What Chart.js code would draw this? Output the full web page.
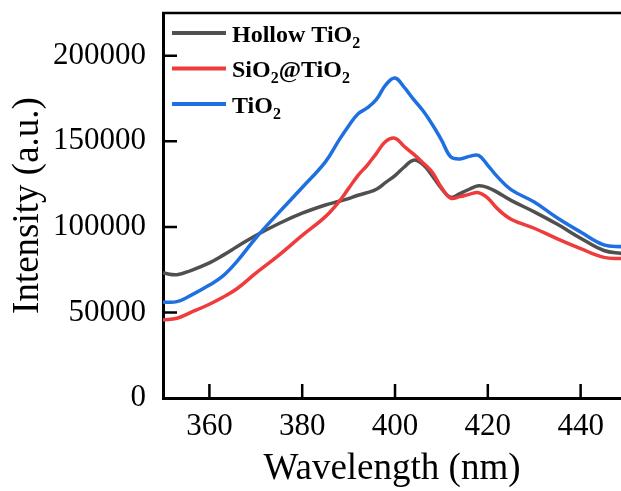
<!DOCTYPE html>
<html>
<head>
<meta charset="utf-8">
<script src="https://cdn.jsdelivr.net/npm/chart.js@4.4.0/dist/chart.umd.min.js"></script>
<style>
  html, body { margin: 0; padding: 0; background: #fff; }
  #wrap { width: 621px; height: 491px; }
</style>
</head>
<body>
<div id="wrap"><canvas id="grafico"></canvas></div>
<script>
// valores
const comprimentos = [350, 353, 356, 360, 363, 366, 370, 375, 380, 385, 388, 390, 392, 394, 396, 398, 400, 402, 404, 406, 408, 410, 412, 414, 416, 418, 420, 422, 425, 430, 435, 440, 445, 449];
const hollowTiO2 = [73000, 72000, 74500, 79000, 83500, 88500, 95000, 102000, 108000, 112800, 115000, 116500, 118500, 120000, 122000, 126000, 130000, 135000, 139000, 136500, 130000, 122500, 117300, 119500, 122000, 124000, 123000, 120300, 115500, 108800, 101500, 93400, 86200, 84400];
const sio2TiO2 = [45600, 46600, 50000, 54800, 59000, 64000, 73000, 83500, 95000, 106000, 115000, 122500, 130000, 136000, 143000, 150000, 151800, 147000, 142500, 137500, 132000, 123000, 116800, 117700, 119000, 120000, 116800, 110800, 104500, 99200, 93000, 87300, 82200, 81500];
const tio2 = [56000, 56300, 60000, 66000, 71500, 80000, 93500, 108500, 123000, 138000, 151000, 159000, 166000, 169500, 174500, 183000, 187000, 181500, 174500, 168000, 160000, 150900, 141000, 139700, 141200, 141800, 136000, 129500, 121800, 114500, 105200, 97000, 89500, 88400];

const ticksX = [360, 380, 400, 420, 440];
const ticksY = [0, 50000, 100000, 150000, 200000];

const legendas = [
  { partes: [['Hollow TiO', 0], ['2', 1]], cor: '#505050' },
  { partes: [['SiO', 0], ['2', 1], ['@TiO', 0], ['2', 1]], cor: '#ef3b3b' },
  { partes: [['TiO', 0], ['2', 1]], cor: '#1e70e0' }
];

function pares(ys) {
  return comprimentos.map((x, i) => ({ x: x, y: ys[i] }));
}

// ticks para dentro, borda de cima e legenda
const extras = {
  id: 'extras',
  afterDraw(chart) {
    const ctx = chart.ctx;
    const area = chart.chartArea;
    const sx = chart.scales.x;
    const sy = chart.scales.y;
    ctx.save();
    ctx.strokeStyle = '#000';
    ctx.lineWidth = 2.5;
    ctx.beginPath();
    ctx.moveTo(area.left - 1, area.top);
    ctx.lineTo(area.right, area.top);
    ticksX.forEach(v => {
      const px = sx.getPixelForValue(v);
      ctx.moveTo(px, area.bottom);
      ctx.lineTo(px, area.bottom - 14);
    });
    ticksY.forEach(v => {
      if (v === 0) return;
      const py = sy.getPixelForValue(v);
      ctx.moveTo(area.left, py);
      ctx.lineTo(area.left + 14, py);
    });
    ctx.stroke();

    legendas.forEach((item, i) => {
      const yLinha = 33 + i * 35.5;
      ctx.strokeStyle = item.cor;
      ctx.lineWidth = 4;
      ctx.beginPath();
      ctx.moveTo(172, yLinha);
      ctx.lineTo(226, yLinha);
      ctx.stroke();
      let x = 232;
      const base = yLinha + 8.5;
      ctx.fillStyle = '#000';
      ctx.textBaseline = 'alphabetic';
      ctx.textAlign = 'left';
      item.partes.forEach(p => {
        if (p[1]) {
          ctx.font = 'bold 16px "Liberation Serif"';
          ctx.fillText(p[0], x, base + 6);
        } else {
          ctx.font = 'bold 24px "Liberation Serif"';
          ctx.fillText(p[0], x, base);
        }
        x += ctx.measureText(p[0]).width;
      });
    });
    ctx.restore();
  }
};

function semSobra(s) {
  s.paddingTop = 0;
  s.paddingBottom = 0;
  s.paddingLeft = 0;
  s.paddingRight = 0;
}

const ctx = document.getElementById('grafico').getContext('2d');
new Chart(ctx, {
  type: 'line',
  data: {
    datasets: [
      { label: 'Hollow TiO2', data: pares(hollowTiO2), borderColor: '#505050', order: 2 },
      { label: 'SiO2@TiO2', data: pares(sio2TiO2), borderColor: '#ef3b3b', order: 1 },
      { label: 'TiO2', data: pares(tio2), borderColor: '#1e70e0', order: 0 }
    ]
  },
  options: {
    responsive: true,
    maintainAspectRatio: false,
    animation: false,
    layout: { padding: { top: 13, right: 0, left: 0, bottom: 0 } },
    elements: {
      point: { radius: 0 },
      line: { borderWidth: 3.5, tension: 0.4, fill: false }
    },
    plugins: {
      legend: { display: false },
      tooltip: { enabled: false }
    },
    scales: {
      x: {
        type: 'linear',
        min: 350,
        max: 448.7,
        afterBuildTicks: s => { s.ticks = ticksX.map(v => ({ value: v })); },
        afterFit: s => { s.height = 93; semSobra(s); },
        grid: { display: false, drawTicks: false },
        border: { display: true, color: '#000', width: 3 },
        ticks: {
          color: '#000',
          padding: 10,
          maxRotation: 0,
          font: { family: 'Liberation Serif', size: 31 }
        },
        title: {
          display: true,
          text: 'Wavelength (nm)',
          color: '#000',
          padding: { top: 0, bottom: 0 },
          font: { family: 'Liberation Serif', size: 37 }
        }
      },
      y: {
        min: 0,
        max: 225000,
        afterBuildTicks: s => { s.ticks = ticksY.map(v => ({ value: v })); },
        afterFit: s => { s.width = 163; semSobra(s); },
        grid: { display: false, drawTicks: false },
        border: { display: true, color: '#000', width: 3 },
        ticks: {
          color: '#000',
          padding: 17,
          callback: v => String(v),
          font: { family: 'Liberation Serif', size: 31 }
        },
        title: {
          display: true,
          text: 'Intensity (a.u.)',
          color: '#000',
          padding: { top: 6, bottom: 0 },
          font: { family: 'Liberation Serif', size: 37 }
        }
      }
    }
  },
  plugins: [extras]
});
</script>
</body>
</html>
